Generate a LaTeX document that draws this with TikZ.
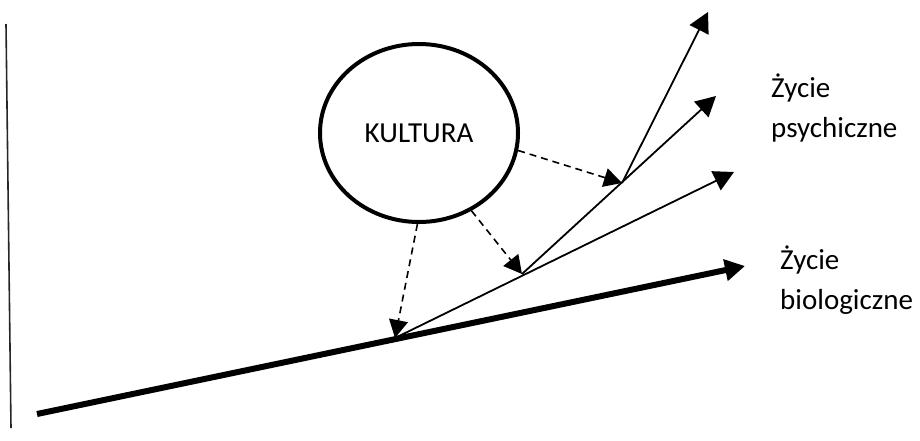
\documentclass[tikz,border=0pt]{standalone}
\usepackage{fontspec}
\setmainfont{Carlito}
\usetikzlibrary{arrows.meta,shapes.geometric}

\tikzset{
  bigtip/.style={-{Triangle[length=20pt,width=21pt]}},
  thin/.style={line width=1.8pt, bigtip},
  influence/.style={line width=1.6pt, dash pattern=on 7pt off 5pt,
    -{Triangle[length=18pt,width=19pt]}},
  label/.style={font=\fontsize{29}{40}\selectfont, align=left, inner sep=0pt},
}

\begin{document}
\begin{tikzpicture}[x=1pt,y=-1pt]
  \useasboundingbox (0,0) rectangle (920,440);

  % vertical axis on the left
  \coordinate (axtop) at (6,24);
  \coordinate (axbot) at (11,428);
  \draw[line width=1.6pt, black!85] (axtop) -- (axbot);

  % biological life: thick main arrow
  \coordinate (bstart) at (37,414);
  \coordinate (btip) at (745,266);
  \draw[line width=6pt, bigtip] (bstart) -- (btip);

  % branching points
  \coordinate (A) at (395,338);
  \coordinate (B) at (522,274);
  \coordinate (C) at (622,183);
  \coordinate (t1) at (708,12);
  \coordinate (t2) at (716,96);
  \coordinate (t3) at (734,172);

  % psychic life branches
  \draw[thin] (A) -- (t3);
  \draw[thin] (B) -- (t2);
  \draw[thin] (C) -- (t1);

  % culture
  \node[ellipse, draw, line width=4pt, minimum width=198pt, minimum height=178pt,
        inner sep=0pt, font=\fontsize{29}{34}\selectfont] (kultura) at (419,133)
        {\raisebox{-6pt}{KULTURA}};

  \draw[influence] (kultura.-91) -- (A);
  \draw[influence] (kultura.-56) -- (B);
  \draw[influence] (kultura.-10) -- (C);

  % labels
  \node[label, anchor=north west] (psych) at (771,74) {Życie\\psychiczne};
  \node[label, anchor=north west] (bio) at (780,246) {Życie\\biologiczne};
\end{tikzpicture}
\end{document}
